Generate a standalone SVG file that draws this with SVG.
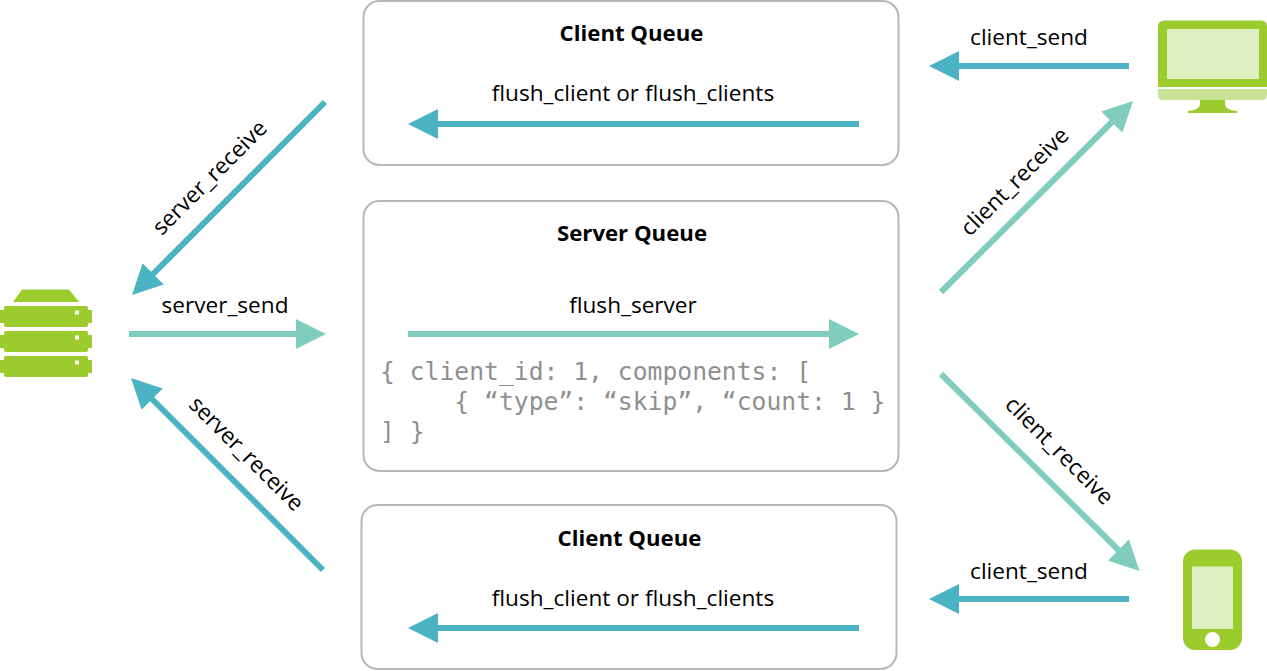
<svg xmlns="http://www.w3.org/2000/svg" width="1267" height="671" viewBox="0 0 1267 671">
<style>
.box{fill:#fff;stroke:#b7b7b7;stroke-width:2}
.t{font-family:"Open Sans","Noto Sans",sans-serif;font-size:22.600px;fill:#000;text-anchor:middle}
.b{font-weight:700;font-size:22.200px}
.m{font-family:"DejaVu Sans Mono",monospace;font-size:24.700px;fill:#8f8f8f;white-space:pre}
.a{fill:none;stroke-width:6}
.dk{stroke:#4bb3c4}.lt{stroke:#80ccbd}
.g{fill:#9bcb2c}.s{fill:#e0efc2}.l{fill:#c8e396}
</style>
<defs>
<marker id="hd" markerUnits="userSpaceOnUse" markerWidth="32" markerHeight="32" refX="1" refY="16" orient="auto"><path d="M0 1L30 16L0 31Z" fill="#4bb3c4"/></marker>
<marker id="hl" markerUnits="userSpaceOnUse" markerWidth="32" markerHeight="32" refX="1" refY="16" orient="auto"><path d="M0 1L30 16L0 31Z" fill="#80ccbd"/></marker>
</defs>
<g id="client-queue-top"><rect class="box" x="363.500" y="1" width="535" height="164" rx="16"/><text class="t b" x="631.500" y="41">Client Queue</text><text class="t" x="633" y="101">flush_client or flush_clients</text></g>
<g id="server-queue"><rect class="box" x="363.500" y="201" width="535" height="270" rx="16"/><text class="t b" x="632" y="241">Server Queue</text><text class="t" x="633" y="313">flush_server</text>
<text class="m" x="380" y="380">{ client_id: 1, components: [</text><text class="m" x="380" y="410">     { “type”: “skip”, “count: 1 }</text><text class="m" x="380" y="440">] }</text></g>
<g id="client-queue-bottom"><rect class="box" x="361.500" y="505" width="535" height="164" rx="16"/><text class="t b" x="629.500" y="546">Client Queue</text><text class="t" x="633" y="606">flush_client or flush_clients</text></g>
<g id="server-icon"><path class="g" d="M13 302L22 289.500H69L79 302Z"/>
<path class="g" fill-rule="evenodd" d="M6 306H86Q88 306 88 308V310H92V323H88V325Q88 327 86 327H6Q4 327 4 325V323H0V310H4V308Q4 306 6 306ZM75 310.500V314.500H79V310.500Z"/>
<path class="g" fill-rule="evenodd" d="M6 331H86Q88 331 88 333V335H92V348H88V350Q88 352 86 352H6Q4 352 4 350V348H0V335H4V333Q4 331 6 331ZM75 335.500V339.500H79V335.500Z"/>
<path class="g" fill-rule="evenodd" d="M6 356H86Q88 356 88 358V360H92V373H88V375Q88 377 86 377H6Q4 377 4 375V373H0V360H4V358Q4 356 6 356ZM75 360.500V364.500H79V360.500Z"/></g>
<g id="desktop-icon"><path class="g" d="M1165 20.500H1261Q1267 20.500 1267 26.500V87H1158V26.500Q1158 20.500 1165 20.500Z"/><rect class="s" x="1167" y="29" width="92" height="50"/><path class="l" d="M1158 89H1267V95Q1267 100 1262 100H1163Q1158 100 1158 95Z"/><path class="g" d="M1200 100H1225V104Q1225 110 1237 111V113H1188V111Q1200 110 1200 104Z"/></g>
<g id="phone-icon"><rect class="g" x="1183" y="549.500" width="59" height="100.500" rx="12"/><rect class="s" x="1192" y="566.500" width="41" height="62.500"/><circle cx="1212.500" cy="639.500" r="7.500" fill="#fff"/></g>
<g id="connectors">
<line class="a dk" x1="859" y1="124" x2="437" y2="124" marker-end="url(#hd)"/>
<line class="a dk" x1="859" y1="628" x2="437" y2="628" marker-end="url(#hd)"/>
<line class="a dk" x1="1129" y1="66" x2="958" y2="66" marker-end="url(#hd)"/>
<line class="a dk" x1="1129" y1="599" x2="958" y2="599" marker-end="url(#hd)"/>
<line class="a lt" x1="408" y1="334" x2="830" y2="334" marker-end="url(#hl)"/>
<line class="a lt" x1="129" y1="334" x2="297" y2="334" marker-end="url(#hl)"/>
<line class="a dk" x1="325" y1="102" x2="152.500" y2="274.500" marker-end="url(#hd)"/>
<line class="a dk" x1="323" y1="570" x2="151.500" y2="398.500" marker-end="url(#hd)"/>
<line class="a lt" x1="941" y1="292" x2="1112.500" y2="121.500" marker-end="url(#hl)"/>
<line class="a lt" x1="941" y1="374" x2="1119" y2="550.500" marker-end="url(#hl)"/>
<text class="t" x="225" y="313">server_send</text>
<text class="t" x="1029" y="45">client_send</text>
<text class="t" x="1029" y="579">client_send</text>
<text class="t" transform="translate(215 183) rotate(-45)">server_receive</text>
<text class="t" transform="translate(241 459) rotate(45)">server_receive</text>
<text class="t" transform="translate(1020 187) rotate(-45)">client_receive</text>
<text class="t" transform="translate(1054 456) rotate(45)">client_receive</text>
</g>
</svg>
